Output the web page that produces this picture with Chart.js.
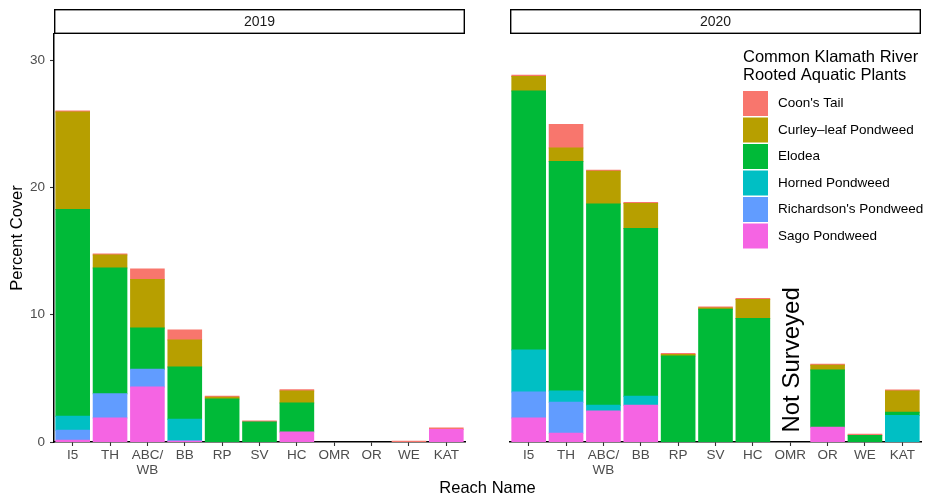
<!DOCTYPE html>
<html>
<head>
<meta charset="utf-8">
<script src="https://cdn.jsdelivr.net/npm/chart.js@4.4.1/dist/chart.umd.min.js"></script>
<style>
  html, body { margin: 0; padding: 0; background: #fff; }
  #wrap { position: relative; width: 928px; height: 500px; }
  #wrap canvas { position: absolute; left: 0; top: 0; }
</style>
</head>
<body>
<div id="wrap">
  <canvas id="c2019" width="928" height="500"></canvas>
  <canvas id="c2020" width="928" height="500"></canvas>
</div>
<script>
// Reaches along the Klamath River, upstream to downstream
const reaches = ['I5', 'TH', ['ABC/', 'WB'], 'BB', 'RP', 'SV', 'HC', 'OMR', 'OR', 'WE', 'KAT'];
const years = ['2019', '2020'];
const yTicks = [0, 10, 20, 30];

const species = ["Coon's Tail", 'Curley\u2013leaf Pondweed', 'Elodea',
                 'Horned Pondweed', "Richardson's Pondweed", 'Sago Pondweed'];
const speciesColors = ['#F8766D', '#B79F00', '#00BA38', '#00BFC4', '#619CFF', '#F564E3'];

// Percent cover by species, 2019
const coon2019       = [0.08, 0.07, 0.82, 0.79, 0.08, 0.08, 0.10, 0, 0, 0.05, 0.10];
const curley2019     = [7.65, 1.03, 3.82, 2.12, 0.13, 0, 0.94, 0, 0, 0, 0];
const elodea2019     = [16.25, 9.86, 3.24, 4.11, 3.38, 1.57, 2.27, 0, 0, 0, 0];
const horned2019     = [1.10, 0, 0, 1.68, 0, 0, 0, 0, 0, 0, 0];
const richardson2019 = [0.79, 1.92, 1.39, 0.05, 0, 0, 0, 0, 0, 0, 0];
const sago2019       = [0.13, 1.88, 4.32, 0.05, 0, 0, 0.79, 0, 0, 0, 0.99];

// Percent cover by species, 2020 (OMR not surveyed)
const coon2020       = [0.08, 1.86, 0.08, 0.08, 0.08, 0.08, 0.08, 0, 0.08, 0.08, 0.08];
const curley2020     = [1.15, 1.05, 2.57, 1.96, 0.13, 0.10, 1.49, 0, 0.37, 0, 1.67];
const elodea2020     = [20.34, 18.03, 15.81, 13.19, 6.75, 10.42, 9.71, 0, 4.50, 0.52, 0.24];
const horned2020     = [3.30, 0.89, 0.45, 0.71, 0, 0, 0, 0, 0, 0, 2.09];
const richardson2020 = [2.05, 2.44, 0, 0, 0, 0, 0, 0, 0, 0, 0];
const sago2020       = [1.88, 0.68, 2.43, 2.88, 0, 0, 0, 0, 1.15, 0, 0];

const notSurveyedReach = 7;
const notSurveyedLabel = 'Not Surveyed';

const FONT = '"Liberation Sans", Arial, Helvetica, sans-serif';
Chart.defaults.font.family = FONT;

// datasets stacked bottom-up: Sago first, Coon's Tail on top
function buildDatasets(series) {
  const order = [5, 4, 3, 2, 1, 0];
  return order.map(i => ({
    label: species[i],
    data: series[i],
    backgroundColor: speciesColors[i],
    borderWidth: 0,
    // slight inflation hides seams between stacked segments; empty segments stay invisible
    inflateAmount: (c) => (c.raw > 0 ? 0.5 : 0),
    barPercentage: 0.9,
    categoryPercentage: 1.0
  }));
}

const series2019 = [coon2019, curley2019, elodea2019, horned2019, richardson2019, sago2019];
const series2020 = [coon2020, curley2020, elodea2020, horned2020, richardson2020, sago2020];

// facet strip above each panel
const stripPlugin = {
  id: 'strip',
  afterDraw(chart, args, opts) {
    const ctx = chart.ctx;
    const a = chart.chartArea;
    ctx.save();
    ctx.fillStyle = '#fff';
    ctx.fillRect(a.left, 9, a.right - a.left, 25);
    ctx.strokeStyle = '#000';
    ctx.lineWidth = 1.4;
    ctx.strokeRect(a.left + 0.7, 9.7, a.right - a.left - 1.4, 23.6);
    ctx.fillStyle = '#1a1a1a';
    ctx.font = '14px ' + FONT;
    ctx.textAlign = 'center';
    ctx.textBaseline = 'middle';
    ctx.fillText(opts.text, (a.left + a.right) / 2, 22);
    ctx.restore();
  }
};

const whiteBg = {
  id: 'whiteBg',
  beforeDraw(chart) {
    const ctx = chart.ctx;
    ctx.save();
    ctx.fillStyle = '#fff';
    ctx.fillRect(0, 0, chart.width, chart.height);
    ctx.restore();
  }
};

// shared x axis title, centred under both panels
const xTitlePlugin = {
  id: 'xTitle',
  afterDraw(chart) {
    const ctx = chart.ctx;
    ctx.save();
    ctx.fillStyle = '#000';
    ctx.font = '16.5px ' + FONT;
    ctx.textAlign = 'center';
    ctx.textBaseline = 'alphabetic';
    ctx.fillText('Reach Name', 487.5, 493);
    ctx.restore();
  }
};

const notSurveyedPlugin = {
  id: 'notSurveyed',
  afterDatasetsDraw(chart) {
    const ctx = chart.ctx;
    const x = chart.scales.x.getPixelForValue(notSurveyedReach) + 9;
    const y = chart.scales.y.getPixelForValue(6.45);
    ctx.save();
    ctx.translate(x, y);
    ctx.rotate(-Math.PI / 2);
    ctx.fillStyle = '#000';
    ctx.font = '24px ' + FONT;
    ctx.textAlign = 'center';
    ctx.textBaseline = 'alphabetic';
    ctx.fillText(notSurveyedLabel, 0, 0);
    ctx.restore();
  }
};

// legend inside the 2020 panel
const legendPlugin = {
  id: 'speciesLegend',
  afterDraw(chart) {
    const ctx = chart.ctx;
    const left = 743;
    ctx.save();
    ctx.fillStyle = '#000';
    ctx.font = '16.5px ' + FONT;
    ctx.textAlign = 'left';
    ctx.textBaseline = 'alphabetic';
    ctx.fillText('Common Klamath River', left, 62);
    ctx.fillText('Rooted Aquatic Plants', left, 80);
    const items = chart.data.datasets.slice().reverse();
    ctx.font = '13.5px ' + FONT;
    ctx.textBaseline = 'middle';
    items.forEach((ds, i) => {
      const top = 91 + i * 26.5;
      ctx.fillStyle = ds.backgroundColor;
      ctx.fillRect(left, top, 25, 25);
      ctx.fillStyle = '#000';
      ctx.fillText(ds.label, left + 35, top + 12.5);
    });
    ctx.restore();
  }
};

function xScale() {
  return {
    type: 'category',
    stacked: true,
    offset: true,
    grid: { drawOnChartArea: false, offset: false, drawTicks: true, tickLength: 4, tickColor: '#333', tickWidth: 1.1 },
    border: { display: true, color: '#000', width: 1.5 },
    ticks: { color: '#4d4d4d', font: { size: 13.5, lineHeight: 1.1 }, padding: 2, maxRotation: 0, autoSkip: false },
    afterFit(s) { s.height = 58; }
  };
}

function yScale(show) {
  const y = {
    display: show,
    stacked: true,
    min: 0,
    max: 32.05,
    afterBuildTicks(s) { s.ticks = yTicks.map(v => ({ value: v })); },
    grid: { drawOnChartArea: false, drawTicks: true, tickLength: 4, tickColor: '#333', tickWidth: 1.1 },
    border: { display: true, color: '#000', width: 1.5 },
    ticks: { color: '#4d4d4d', font: { size: 13.5 }, padding: 5 },
    title: { display: true, text: 'Percent Cover', color: '#000', font: { size: 16.5 }, padding: { top: 8, bottom: 0 } }
  };
  y.afterFit = show ? (s) => { s.width = 54; } : (s) => { s.width = 0; };
  return y;
}

function makeChart(id, series, year, padding, showY, extraPlugins) {
  return new Chart(document.getElementById(id), {
    type: 'bar',
    data: { labels: reaches, datasets: buildDatasets(series) },
    options: {
      responsive: false,
      animation: false,
      devicePixelRatio: 1,
      layout: { padding: padding },
      plugins: {
        legend: { display: false },
        tooltip: { enabled: false },
        strip: { text: year }
      },
      scales: { x: xScale(), y: yScale(showY) }
    },
    plugins: [stripPlugin].concat(extraPlugins)
  });
}

makeChart('c2019', series2019, years[0], { left: 0, top: 34, right: 463, bottom: 0 }, true, [whiteBg, xTitlePlugin]);
makeChart('c2020', series2020, years[1], { left: 510, top: 34, right: 7, bottom: 0 }, false, [notSurveyedPlugin, legendPlugin]);
</script>
</body>
</html>
